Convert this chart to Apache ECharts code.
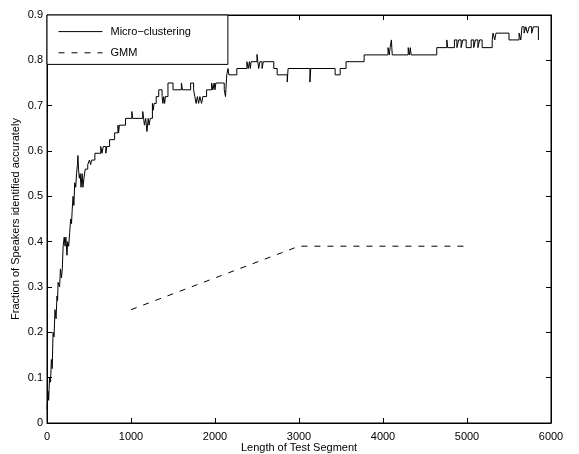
<!DOCTYPE html>
<html>
<head>
<meta charset="utf-8">
<script src="https://cdn.jsdelivr.net/npm/echarts@6/dist/echarts.min.js"></script>
<style>
  html, body { margin: 0; padding: 0; background: #fff; }
  #chart { width: 579px; height: 454px; }
</style>
</head>
<body>
<div id="chart"></div>
<script>
// Test segment length (x) and fraction identified (y) for the micro-clustering run.
// Each value holds until the next length, drawn as a staircase.
const microLength = [
  0, 12, 20, 30, 42, 52, 62, 72, 84, 95, 108, 119, 126, 132, 150, 160, 172, 182, 192, 205,
  215, 225, 238, 246, 258, 270, 282, 292, 300, 310, 320, 330, 342, 352, 362, 368, 375, 385, 395, 405,
  418, 428, 440, 455, 485, 505, 520, 530, 570, 640, 655, 670, 700, 712, 745, 805, 845, 852, 862, 935,
  1010, 1020, 1140, 1150, 1160, 1175, 1190, 1205, 1215, 1230, 1255, 1265, 1275, 1300, 1330, 1370, 1380, 1390, 1400, 1410,
  1440, 1500, 1600, 1612, 1710, 1745, 1760, 1775, 1790, 1805, 1820, 1840, 1855, 1900, 1960, 1975, 1990, 2000, 2010, 2110,
  2125, 2140, 2155, 2165, 2260, 2380, 2395, 2410, 2420, 2430, 2500, 2510, 2520, 2535, 2560, 2575, 2700, 2740, 2860, 2870,
  3130, 3140, 3430, 3490, 3560, 3775, 4060, 4075, 4085, 4100, 4110, 4300, 4315, 4325, 4335, 4640, 4760, 4770, 4850, 4880,
  4900, 4930, 4950, 4990, 5050, 5080, 5100, 5130, 5150, 5180, 5300, 5310, 5330, 5345, 5500, 5620, 5640, 5655, 5680, 5700,
  5720, 5740, 5770, 5790, 5850
];
const microAccuracy = [
  0.03, 0.07, 0.05, 0.10, 0.09, 0.14, 0.12, 0.20, 0.19, 0.25, 0.23, 0.28, 0.27, 0.31, 0.30, 0.34, 0.32, 0.34, 0.39, 0.41,
  0.39, 0.41, 0.37, 0.40, 0.39, 0.42, 0.45, 0.44, 0.47, 0.50, 0.48, 0.53, 0.52, 0.55, 0.57, 0.59, 0.56, 0.54, 0.55, 0.52,
  0.55, 0.52, 0.54, 0.56, 0.57, 0.58, 0.57, 0.58, 0.595, 0.61, 0.595, 0.61, 0.595, 0.61, 0.625, 0.64, 0.657, 0.64, 0.657, 0.672,
  0.687, 0.672, 0.687, 0.672, 0.657, 0.672, 0.643, 0.672, 0.657, 0.672, 0.705, 0.69, 0.705, 0.72, 0.735, 0.72, 0.705, 0.72, 0.705, 0.72,
  0.75, 0.735, 0.75, 0.735, 0.75, 0.735, 0.72, 0.705, 0.72, 0.705, 0.72, 0.705, 0.72, 0.735, 0.75, 0.735, 0.75, 0.735, 0.75, 0.735,
  0.72, 0.768, 0.782, 0.768, 0.782, 0.797, 0.782, 0.797, 0.782, 0.797, 0.813, 0.797, 0.782, 0.797, 0.782, 0.797, 0.782, 0.768, 0.752, 0.782,
  0.752, 0.782, 0.768, 0.782, 0.797, 0.812, 0.828, 0.812, 0.828, 0.845, 0.812, 0.828, 0.812, 0.828, 0.812, 0.828, 0.845, 0.828, 0.845, 0.828,
  0.845, 0.828, 0.845, 0.828, 0.845, 0.828, 0.845, 0.828, 0.845, 0.828, 0.845, 0.86, 0.845, 0.86, 0.845, 0.86, 0.845, 0.874, 0.86, 0.874,
  0.86, 0.874, 0.86, 0.874, 0.845
];

// GMM baseline
const gmmLength = [1000, 3000, 5000];
const gmmAccuracy = [0.25, 0.39, 0.39];

// Axis ticks
const xTicks = [0, 1000, 2000, 3000, 4000, 5000, 6000];
const yTicks = [0, 0.1, 0.2, 0.3, 0.4, 0.5, 0.6, 0.7, 0.8, 0.9];

const pair = (xs, ys) => xs.map((x, i) => [x, ys[i]]);
const FONT = '"Liberation Sans", Arial, Helvetica, sans-serif';

const chart = echarts.init(document.getElementById('chart'), null, { renderer: 'canvas' });

const xStep = xTicks[1] - xTicks[0];
const yStep = +(yTicks[1] - yTicks[0]).toFixed(2);

function valueAxis(ticks, step, extra) {
  return Object.assign({
    type: 'value', min: ticks[0], max: ticks[ticks.length - 1], interval: step,
    axisLine: { show: true, onZero: false, lineStyle: { color: '#000', width: 1 } },
    axisTick: { show: true, inside: true, length: 5, lineStyle: { color: '#000' } },
    splitLine: { show: false }
  }, extra);
}

chart.setOption({
  animation: false,
  backgroundColor: '#fff',
  grid: { left: 47, right: 28, top: 15, bottom: 31, containLabel: false, outerBoundsMode: 'none',
          show: true, borderColor: '#000', borderWidth: 1, backgroundColor: 'transparent' },
  legend: {
    left: 47, top: 15, orient: 'vertical',
    backgroundColor: '#fff', borderColor: '#000', borderWidth: 1, borderRadius: 0,
    padding: [11, 37, 6, 11],
    itemWidth: 44, itemHeight: 14, itemGap: 10,
    itemStyle: { opacity: 0 },
    lineStyle: { width: 1 },
    textStyle: { fontFamily: FONT, fontSize: 11, color: '#000', padding: [0, 0, 0, 3] },
    data: ['Micro−clustering', 'GMM']
  },
  xAxis: [
    valueAxis(xTicks, xStep, {
      position: 'bottom',
      name: 'Length of Test Segment', nameLocation: 'middle', nameGap: 19, nameMoveOverlap: false,
      nameTextStyle: { fontFamily: FONT, fontSize: 11, color: '#000' },
      axisLabel: { show: true, margin: 8, fontFamily: FONT, fontSize: 11, color: '#000',
        formatter: v => String(v) }
    }),
    valueAxis(xTicks, xStep, { position: 'top', axisLabel: { show: false } })
  ],
  yAxis: [
    valueAxis(yTicks, yStep, {
      position: 'left',
      name: 'Fraction of Speakers identified accurately', nameLocation: 'middle', nameGap: 26, nameMoveOverlap: false,
      nameTextStyle: { fontFamily: FONT, fontSize: 11, color: '#000' },
      axisLabel: { show: true, margin: 4, fontFamily: FONT, fontSize: 11, color: '#000',
        formatter: v => String(+v.toFixed(1)) }
    }),
    valueAxis(yTicks, yStep, { position: 'right', axisLabel: { show: false } })
  ],
  series: [
    {
      name: 'Micro−clustering', type: 'line', step: 'end',
      xAxisIndex: 0, yAxisIndex: 0,
      data: pair(microLength, microAccuracy),
      showSymbol: false, symbol: 'none',
      lineStyle: { color: '#000', width: 1 },
      itemStyle: { color: '#000' }
    },
    {
      name: 'GMM', type: 'line',
      xAxisIndex: 0, yAxisIndex: 0,
      data: pair(gmmLength, gmmAccuracy),
      showSymbol: false, symbol: 'none',
      lineStyle: { color: '#000', width: 1, type: [6, 7] },
      itemStyle: { color: '#000' }
    }
  ]
});
</script>
</body>
</html>
